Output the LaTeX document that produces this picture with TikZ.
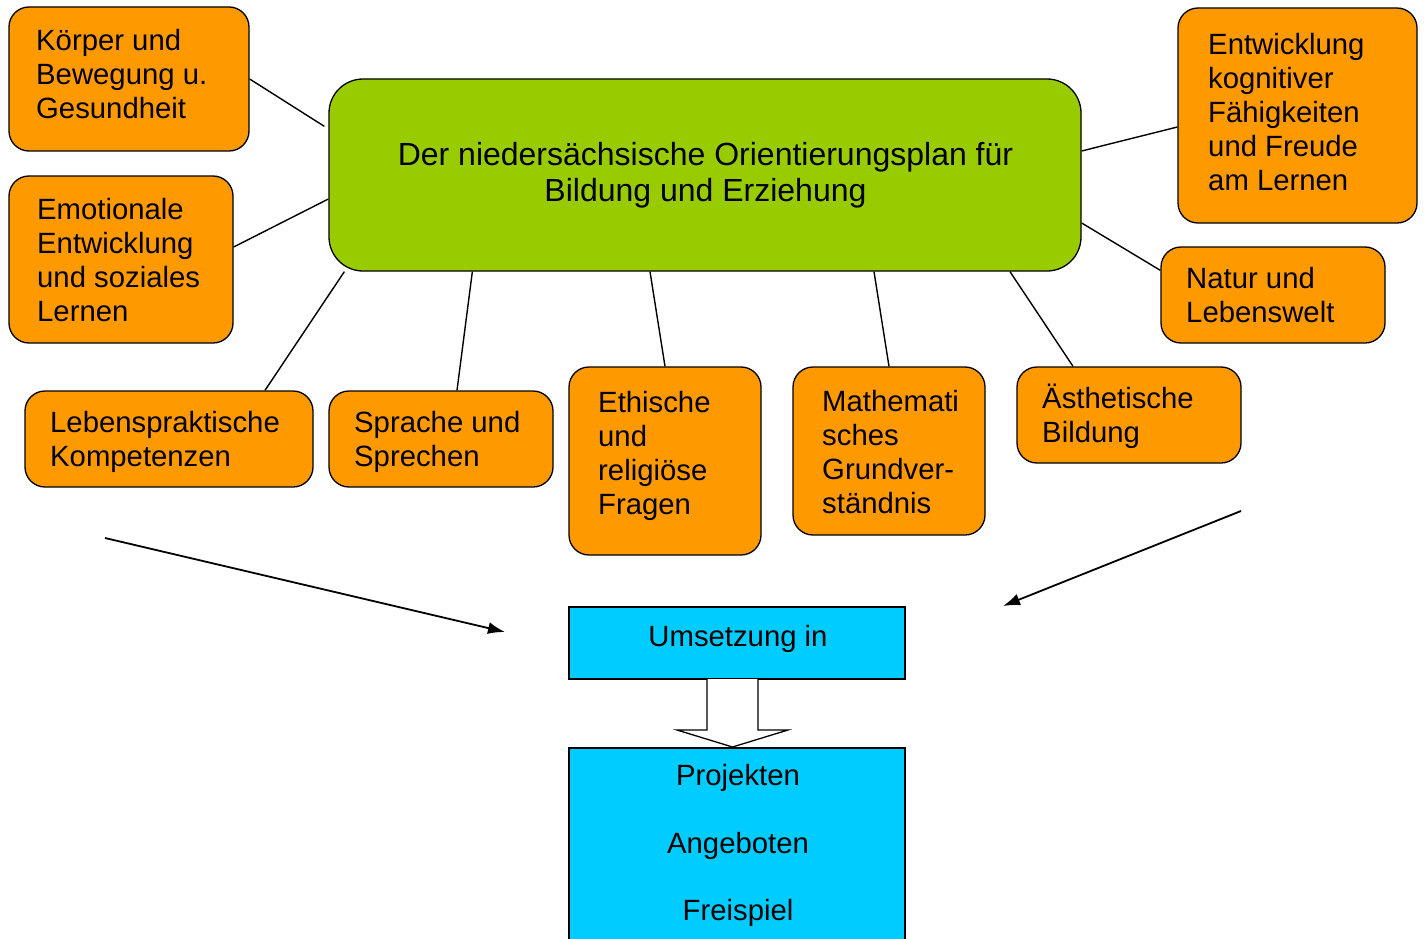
\documentclass[tikz,border=0pt]{standalone}
\usepackage{fontspec}
\setmainfont{Liberation Sans}
\usetikzlibrary{arrows.meta}
\definecolor{ora}{RGB}{255,153,0}
\definecolor{grn}{RGB}{153,204,0}
\definecolor{cya}{RGB}{0,204,255}
\tikzset{
  ob/.style={draw=black, line width=1.3pt, fill=ora, rounded corners=20pt, inner sep=0pt},
  gb/.style={draw=black, line width=1.3pt, fill=grn, rounded corners=34pt, inner sep=0pt},
  cb/.style={draw=black, line width=1.3pt, fill=cya, inner sep=0pt},
  tx/.style={anchor=north west, inner sep=0pt, align=left, font=\fontsize{29.3}{34}\selectfont},
  ctx/.style={anchor=north, inner sep=0pt, align=center, font=\fontsize{29.3}{34}\selectfont},
  con/.style={draw=black, line width=1.4pt},
  arr/.style={draw=black, line width=1.8pt, -{Latex[length=17pt,width=12pt]}},
}
\begin{document}
\begin{tikzpicture}[x=1pt,y=-1pt]
\useasboundingbox (0,0) rectangle (1424,939);
% boxes
\node[ob, minimum width=240pt, minimum height=144pt] (k) at (129,79) {};
\node[ob, minimum width=224pt, minimum height=167pt] (e) at (121,259.5) {};
\node[gb, minimum width=752pt, minimum height=192pt] (g) at (705,175) {};
\node[ob, minimum width=239pt, minimum height=215pt] (en) at (1297.5,115.5) {};
\node[ob, minimum width=224pt, minimum height=96pt] (n) at (1273,295) {};
\node[ob, minimum width=288pt, minimum height=96pt] (l) at (169,439) {};
\node[ob, minimum width=224pt, minimum height=96pt] (s) at (441,439) {};
\node[ob, minimum width=192pt, minimum height=188pt] (et) at (665,461) {};
\node[ob, minimum width=192pt, minimum height=168pt] (m) at (889,451) {};
\node[ob, minimum width=224pt, minimum height=96pt] (a) at (1129,415) {};
\node[cb, minimum width=336pt, minimum height=72pt] (u) at (737,643) {};
% hollow arrow
\draw[line width=1.3pt, fill=white] (707,679) -- (707,730) -- (677,730) -- (732.5,747) -- (788,730) -- (758,730) -- (758,679);
\node[cb, minimum width=336pt, minimum height=220pt] (p) at (737,858) {};
% texts
\node[tx] (kt) at (36,26.2) {\strut Körper und\\Bewegung u.\\Gesundheit};
\node[tx] (et1) at (37,195.2) {\strut Emotionale\\Entwicklung\\und soziales\\Lernen};
\node[ctx, font=\fontsize{32}{36}\selectfont] (gt) at (705.5,139.8) {\strut Der niedersächsische Orientierungsplan für\\Bildung und Erziehung};
\node[tx] (ent) at (1208,30.2) {\strut Entwicklung\\kognitiver\\Fähigkeiten\\und Freude\\am Lernen};
\node[tx] (nt) at (1186,264.2) {\strut Natur und\\Lebenswelt};
\node[tx] (lt) at (50,408.2) {\strut Lebenspraktische\\Kompetenzen};
\node[tx] (st) at (354,408.2) {\strut Sprache und\\Sprechen};
\node[tx] (ett) at (598,388.2) {\strut Ethische\\und\\religiöse\\Fragen};
\node[tx] (mt) at (822,387.2) {\strut Mathemati\\sches\\Grundver-\\ständnis};
\node[tx] (at) at (1042,384.2) {\strut Ästhetische\\Bildung};
\node[ctx] (ut) at (738,622.2) {\strut Umsetzung in};
\node[ctx] (pt) at (738,761.2) {\strut Projekten\\[34pt]Angeboten\\[33pt]Freispiel};
% connectors
\draw[con] (k.east) -- ([shift={(-4,48)}]g.north west);
\draw[con] ([shift={(0,-12.5)}]e.east) -- ([shift={(0,24)}]g.west);
\draw[con] ([shift={(0,-24)}]g.east) -- ([shift={(0,11.5)}]en.west);
\draw[con] ([shift={(0,48)}]g.east) -- ([shift={(0,24)}]n.north west);
\draw[con] ([shift={(16,0)}]g.south west) -- ([shift={(96,0)}]l.north);
\draw[con] ([shift={(144,0)}]g.south west) -- ([shift={(16,0)}]s.north);
\draw[con] ([shift={(-55,0)}]g.south) -- (et.north);
\draw[con] ([shift={(169,0)}]g.south) -- (m.north);
\draw[con] ([shift={(305,0)}]g.south) -- ([shift={(-56,0)}]a.north);
% free arrows
\coordinate (a1s) at (105,538);
\coordinate (a1e) at (505,632);
\coordinate (a2s) at (1241,511);
\coordinate (a2e) at (1003,606);
\draw[arr] (a1s) -- (a1e);
\draw[arr] (a2s) -- (a2e);
\end{tikzpicture}
\end{document}
